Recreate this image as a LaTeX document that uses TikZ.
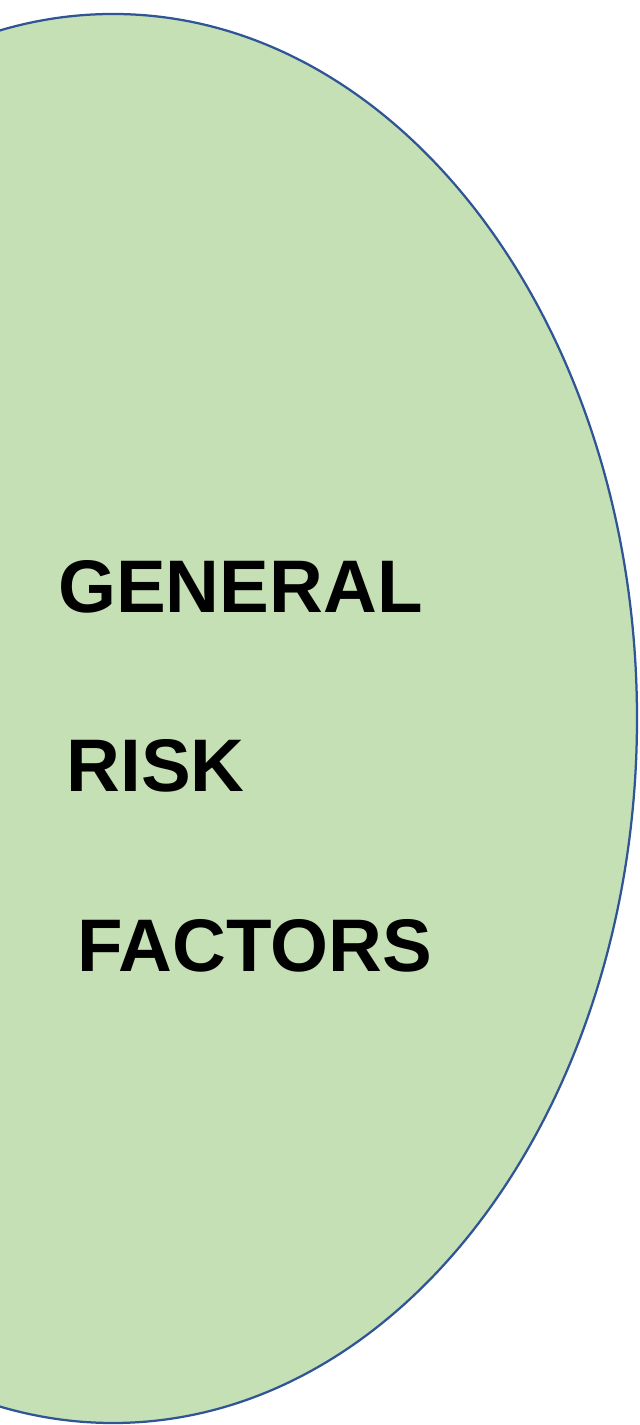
\documentclass[tikz,border=0pt]{standalone}
\usepackage{fontspec}
\setmainfont{Liberation Sans}
\usepackage{tikz}
\definecolor{leafgreen}{HTML}{C5E0B4}
\definecolor{rimblue}{HTML}{2F5597}
\tikzset{riskword/.style={inner sep=0pt, anchor=base west, font=\fontsize{53}{60}\selectfont\bfseries}}
\begin{document}
\begin{tikzpicture}
    \useasboundingbox (0,0) rectangle (16,35.625);
    \clip (0,0) rectangle (16,35.625);
    \draw[rimblue, fill=leafgreen, line width=1.6pt] (2.825,17.6625) ellipse (13.1 and 17.6125);
    \node[riskword] (general) at (1.45,20.3) {GENERAL};
    \node[riskword] (risk) at (1.66,15.825) {RISK};
    \node[riskword] (factors) at (1.93,11.325) {FACTORS};
  \end{tikzpicture}
\end{document}
